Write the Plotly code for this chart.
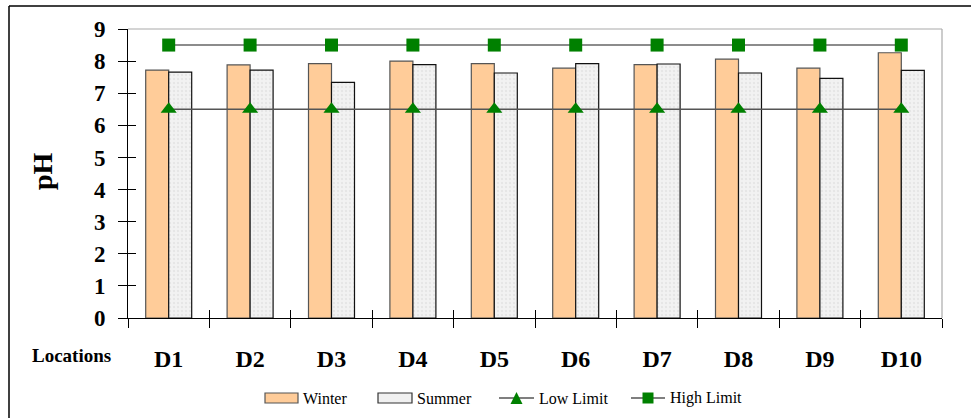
import plotly.graph_objects as go

# pH readings at ten drinking-water locations, winter vs summer
locations = ["D1", "D2", "D3", "D4", "D5", "D6", "D7", "D8", "D9", "D10"]
winter = [7.72, 7.88, 7.92, 8.00, 7.92, 7.78, 7.89, 8.06, 7.78, 8.26]
summer = [7.66, 7.72, 7.34, 7.89, 7.63, 7.92, 7.91, 7.63, 7.46, 7.71]
low_limit = [6.5] * len(locations)
high_limit = [8.5] * len(locations)
y_ticks = [0, 1, 2, 3, 4, 5, 6, 7, 8, 9]
series_names = ["Winter", "Summer", "Low Limit", "High Limit"]

W, H = 971, 418
M_L, M_R, M_T, M_B = 128, 29, 29, 100
PW, PH = W - M_L - M_R, H - M_T - M_B


def px_x(px):
    return (px - M_L) / PW


def px_y(py):
    return (H - M_B - py) / PH


SERIF = "Liberation Serif"
WINTER_FILL, WINTER_EDGE = "#FFCC99", "#555555"
SUMMER_FILL, SUMMER_EDGE = "#F0F0F0", "#111111"
GREEN = "#008000"
LOW_LINE, HIGH_LINE = "#555555", "#8C8C8C"
x_range = [-0.5, len(locations) - 0.5]

fig = go.Figure()

fig.add_trace(go.Bar(
    x=locations, y=winter, name=series_names[0],
    marker=dict(color=WINTER_FILL, line=dict(color=WINTER_EDGE, width=1.2)),
    hoverinfo="skip",
))
fig.add_trace(go.Bar(
    x=locations, y=summer, name=series_names[1],
    marker=dict(
        color=SUMMER_FILL,
        line=dict(color=SUMMER_EDGE, width=1.2),
        pattern=dict(shape=".", fgcolor="#D9D9D9", bgcolor="#F2F2F2",
                     size=4, solidity=0.3),
    ),
    hoverinfo="skip",
))
fig.add_trace(go.Scatter(
    x=locations, y=low_limit, name=series_names[2], mode="lines+markers",
    line=dict(color=LOW_LINE, width=1.5),
    marker=dict(symbol="triangle-up", size=14, color=GREEN),
    hoverinfo="skip",
))
fig.add_trace(go.Scatter(
    x=locations, y=high_limit, name=series_names[3], mode="lines+markers",
    line=dict(color=HIGH_LINE, width=2),
    marker=dict(symbol="square", size=13, color=GREEN),
    hoverinfo="skip",
))
# carrier trace for the inner tick-mark axes
fig.add_trace(go.Scatter(
    x=locations, y=low_limit, xaxis="x2", yaxis="y2", mode="markers",
    marker=dict(opacity=0), showlegend=False, hoverinfo="skip",
))

# ---- hand-drawn legend below the axis ----
shapes = []
annotations = []
LEG_Y = 398


def legend_text(label, left_px):
    annotations.append(dict(
        text=label, xref="paper", yref="paper", x=px_x(left_px), y=px_y(LEG_Y),
        xanchor="left", yanchor="middle", showarrow=False,
        font=dict(family=SERIF, size=16, color="black"),
    ))


def legend_box(x0, x1, fill, edge, label):
    shapes.append(dict(type="rect", xref="paper", yref="paper",
                       x0=px_x(x0), x1=px_x(x1),
                       y0=px_y(LEG_Y - 5), y1=px_y(LEG_Y + 5),
                       fillcolor=fill, line=dict(color=edge, width=1.2)))
    legend_text(label, x1 + 3)


def legend_line(x0, x1, color, width, marker, label):
    shapes.append(dict(type="line", xref="paper", yref="paper",
                       x0=px_x(x0), x1=px_x(x1),
                       y0=px_y(LEG_Y), y1=px_y(LEG_Y),
                       line=dict(color=color, width=width)))
    cx = (x0 + x1) / 2
    if marker == "triangle":
        path = "M {},{} L {},{} L {},{} Z".format(
            px_x(cx - 6), px_y(LEG_Y + 6), px_x(cx + 6), px_y(LEG_Y + 6),
            px_x(cx), px_y(LEG_Y - 6))
    else:
        path = "M {a},{b} L {c},{b} L {c},{d} L {a},{d} Z".format(
            a=px_x(cx - 5.5), c=px_x(cx + 5.5),
            b=px_y(LEG_Y + 5.5), d=px_y(LEG_Y - 5.5))
    shapes.append(dict(type="path", xref="paper", yref="paper", path=path,
                       fillcolor=GREEN, line=dict(width=0)))
    legend_text(label, x1 + 3)


legend_box(265, 298, WINTER_FILL, WINTER_EDGE, series_names[0])
legend_box(378, 412, SUMMER_FILL, "#333333", series_names[1])
legend_line(499, 534, LOW_LINE, 1.3, "triangle", series_names[2])
legend_line(631, 665, LOW_LINE, 1.3, "square", series_names[3])

annotations += [
    dict(text="pH", xref="paper", yref="paper", x=px_x(42), y=px_y(171),
         xanchor="center", yanchor="middle",
         textangle=-90, showarrow=False,
         font=dict(family=SERIF, size=28, weight="bold")),
    dict(text="Locations", xref="paper", yref="paper", x=px_x(71),
         y=px_y(355), xanchor="center", yanchor="middle", showarrow=False,
         font=dict(family=SERIF, size=19, weight="bold")),
]

shapes += [
    # light plot-area frame on top and right
    dict(type="line", xref="paper", yref="paper", x0=0, x1=1, y0=1, y1=1,
         line=dict(color="#AAAAAA", width=1.2), layer="below"),
    dict(type="line", xref="paper", yref="paper", x0=1, x1=1, y0=0, y1=1,
         line=dict(color="#AAAAAA", width=1.2), layer="below"),
    # outer chart frame
    dict(type="line", xref="paper", yref="paper", x0=px_x(9), x1=px_x(975),
         y0=px_y(6), y1=px_y(6), line=dict(color="black", width=1.5)),
    dict(type="line", xref="paper", yref="paper", x0=px_x(9), x1=px_x(9),
         y0=px_y(6), y1=px_y(425), line=dict(color="black", width=1.5)),
]

fig.update_layout(
    width=W, height=H,
    margin=dict(l=M_L, r=M_R, t=M_T, b=M_B, autoexpand=False),
    paper_bgcolor="white", plot_bgcolor="white",
    barmode="group", bargap=0.435, bargroupgap=0,
    showlegend=False,
    font=dict(family=SERIF, color="black"),
    xaxis=dict(
        type="category", categoryorder="array", categoryarray=locations,
        range=x_range, automargin=False,
        showline=True, linecolor="black", linewidth=1,
        ticks="outside", ticklen=9, tickcolor="black", tickson="boundaries",
        showgrid=False, zeroline=False,
        tickfont=dict(family=SERIF, size=24, weight="bold"),
        ticklabelstandoff=19,
    ),
    yaxis=dict(
        range=[0, 9], tickvals=y_ticks, automargin=False,
        showline=True, linecolor="black", linewidth=1,
        ticks="outside", ticklen=9, tickcolor="black",
        showgrid=False, zeroline=False,
        tickfont=dict(family=SERIF, size=23, weight="bold"),
        ticklabelstandoff=8,
    ),
    xaxis2=dict(
        type="category", categoryorder="array", categoryarray=locations,
        range=x_range, overlaying="x", side="bottom", showline=False,
        showgrid=False, ticks="inside", ticklen=8, tickcolor="black",
        tickson="boundaries", showticklabels=False, zeroline=False,
    ),
    yaxis2=dict(
        range=[0, 9], tickvals=y_ticks, overlaying="y", side="left",
        showline=False, showgrid=False, zeroline=False,
        ticks="inside", ticklen=8, tickcolor="black", showticklabels=False,
    ),
    annotations=annotations,
    shapes=shapes,
)

fig.write_html("out.html")
